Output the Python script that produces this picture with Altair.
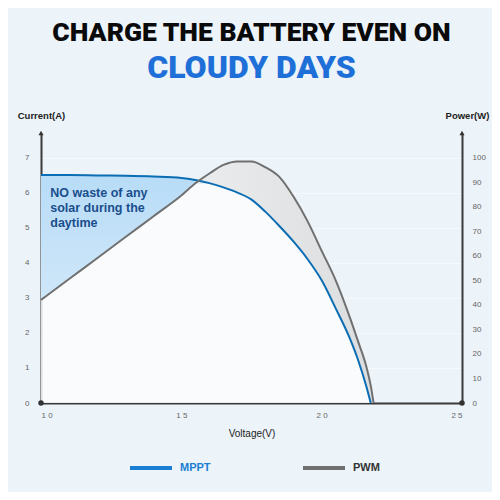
import altair as alt
import pandas as pd

# ---- data ----
voltage = [10, 11, 12, 13, 14, 15, 15.5, 16, 16.5, 17, 17.5, 18, 18.5, 19, 19.5, 20, 20.5, 21, 21.3, 21.6, 21.75, 21.85]
mppt_current = [6.50, 6.50, 6.49, 6.48, 6.46, 6.42, 6.36, 6.27, 6.15, 6.00, 5.80, 5.45, 5.04, 4.60, 4.10, 3.50, 2.70, 1.85, 1.22, 0.45, 0.0, None]
pwm_power = [42, 50.5, 59, 67.5, 76, 84.5, 89.5, 93.5, 97, 98.4, 98.4, 96, 92, 84, 74, 62, 50, 35, 25, 14.5, 7, 0]
series_names = ["MPPT", "PWM"]
x_ticks = [10, 15, 20, 25]
current_ticks = [0, 1, 2, 3, 4, 5, 6, 7]
power_ticks = [0, 10, 20, 30, 40, 50, 60, 70, 80, 90, 100]
axis_ends_x = [10, 25]

CUR_MAX = 7.7
POW_MAX = 110.0
BLUE = "#0b6db3"
BLUE_LEG = "#1a7fd2"
GRAY = "#707070"
FONT = "Liberation Sans, Arial, sans-serif"
TFONT = "Roboto, Liberation Sans, sans-serif"

df = pd.DataFrame({"voltage": voltage, "mppt": mppt_current, "pwm": pwm_power})
df["pwm_eq"] = df["pwm"] * CUR_MAX / POW_MAX
df["mppt_f"] = df["mppt"].fillna(0)
df["low"] = df[["mppt_f", "pwm_eq"]].min(axis=1)

mppt_df = df[["voltage", "mppt"]].dropna().assign(series="MPPT")
pwm_df = df[["voltage", "pwm"]].assign(series="PWM")

x_scale = alt.Scale(domain=[10, 25], nice=False, zero=False)
yl_scale = alt.Scale(domain=[0, CUR_MAX], nice=False)
yr_scale = alt.Scale(domain=[0, POW_MAX], nice=False)

x_axis = alt.Axis(values=x_ticks, labelExpr="join(split(datum.label, ''), ' ')",
                  labelFontSize=8, labelColor="#666", labelFont=FONT, labelPadding=8,
                  ticks=False, domainColor="#3a3a3a", domainWidth=2, grid=False,
                  title="Voltage(V)", titleFont=FONT, titleFontSize=10, titleFontWeight="normal",
                  titleColor="#222", titlePadding=9)
X = alt.X("voltage:Q", scale=x_scale, axis=x_axis)

base_area = alt.Chart(df).mark_area(interpolate="monotone", color="#fbfcfd", opacity=0.85).encode(
    x=X,
    y=alt.Y("low:Q", scale=yl_scale, axis=None),
)

blue_band = alt.Chart(df).mark_area(
    interpolate="monotone",
    color=alt.Gradient(gradient="linear", x1=0, x2=0, y1=0, y2=1,
                       stops=[alt.GradientStop(color="#b8dcf7", offset=0),
                              alt.GradientStop(color="#e2f0fb", offset=1)]),
    opacity=1,
).encode(
    x=X,
    y=alt.Y("mppt_f:Q", scale=yl_scale, axis=None),
    y2="low:Q",
)

gray_band = alt.Chart(df).mark_area(
    interpolate="monotone",
    color=alt.Gradient(gradient="linear", x1=1, x2=0, y1=0, y2=0,
                       stops=[alt.GradientStop(color="#d9d9d9", offset=0),
                              alt.GradientStop(color="#fafafa", offset=1)]),
    opacity=0.85,
).encode(
    x=X,
    y=alt.Y("pwm_eq:Q", scale=yl_scale, axis=None),
    y2="low:Q",
)

color_enc = alt.Color(
    "series:N",
    scale=alt.Scale(domain=series_names, range=[BLUE_LEG, GRAY]),
    legend=alt.Legend(
        title=None, orient="none", direction="horizontal", legendX=87, legendY=312,
        symbolType="stroke", symbolSize=1764, symbolStrokeWidth=4, symbolOffset=0,
        labelFont=FONT, labelFontSize=11, labelFontWeight="bold",
        labelColor=alt.ExprRef("datum.label == 'MPPT' ? '#1a7fd2' : '#333333'"),
        labelOffset=6, columnPadding=84,
    ),
)

pwm_line = alt.Chart(pwm_df).mark_line(interpolate="monotone", strokeWidth=2).encode(
    x=X,
    y=alt.Y("pwm:Q", scale=yr_scale,
            axis=alt.Axis(orient="right", values=power_ticks, labelFontSize=8, labelColor="#666",
                          labelFont=FONT, labelPadding=10, ticks=False,
                          domainColor="#3a3a3a", domainWidth=2, grid=False,
                          title="Power(W)", titleAngle=0, titleX=5, titleY=-18,
                          titleAlign="center", titleBaseline="middle",
                          titleFont=FONT, titleFontSize=9.5, titleFontWeight="bold", titleColor="#222")),
    color=color_enc,
)

mppt_line = alt.Chart(mppt_df).mark_line(interpolate="monotone", strokeWidth=2).encode(
    x=X,
    y=alt.Y("mppt:Q", scale=yl_scale,
            axis=alt.Axis(orient="left", values=current_ticks, labelFontSize=8, labelColor="#666",
                          labelFont=FONT, labelPadding=12, ticks=False,
                          domainColor="#3a3a3a", domainWidth=2,
                          grid=True, gridColor="#ffffff", gridOpacity=0.6,
                          title="Current(A)", titleAngle=0, titleX=0, titleY=-18,
                          titleAlign="center", titleBaseline="middle",
                          titleFont=FONT, titleFontSize=9.5, titleFontWeight="bold", titleColor="#222")),
    color=alt.Color("series:N", scale=alt.Scale(domain=series_names, range=[BLUE, GRAY]), legend=None),
)

ends_df = pd.DataFrame({"voltage": axis_ends_x, "bottom": [0, 0], "top": [CUR_MAX, CUR_MAX]})
dots = alt.Chart(ends_df).mark_point(filled=True, color="#333", size=30, opacity=1).encode(
    x=X,
    y=alt.Y("bottom:Q", scale=yl_scale, axis=None),
)
arrows = alt.Chart(ends_df).mark_point(filled=True, color="#333", shape="triangle-up", size=25, opacity=1).encode(
    x=X,
    y=alt.Y("top:Q", scale=yl_scale, axis=None),
)

note = alt.Chart(pd.DataFrame({"voltage": [10.33], "y": [6.0],
                               "t": [["NO waste of any", "solar during the", "daytime"]]})).mark_text(
    align="left", baseline="middle", font=FONT, fontSize=12.5, fontWeight="bold", color="#1a4e8c", lineHeight=15
).encode(
    x=X,
    y=alt.Y("y:Q", scale=yl_scale, axis=None),
    text="t",
)

chart = alt.layer(base_area, blue_band, gray_band, mppt_line, pwm_line, dots, arrows, note).resolve_scale(
    y="independent", color="independent"
).properties(
    width=421, height=270,
    autosize=alt.AutoSizeParams(type="none"),
    padding={"left": 33, "top": 125, "right": 30, "bottom": 89},
    title=alt.TitleParams(
        text="CHARGE THE BATTERY EVEN ON", subtitle="CLOUDY DAYS",
        font=TFONT, fontSize=26.5, fontWeight=900, color="#0a0a0a",
        subtitleFont=TFONT, subtitleFontSize=32, subtitleFontWeight=900, subtitleColor="#1f6fd8",
        subtitlePadding=7, anchor="middle", offset=26,
    ),
).configure(background="#ecf3f9").configure_view(stroke=None)

chart.save("out.html", embed_options={"renderer": "svg", "actions": False})
